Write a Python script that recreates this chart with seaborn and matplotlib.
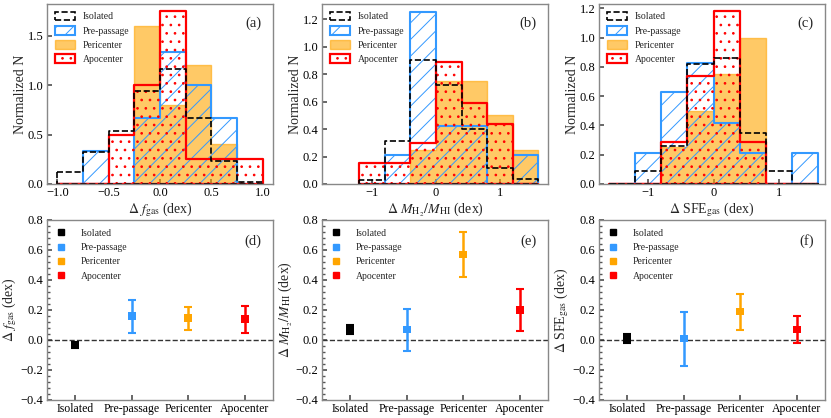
import numpy as np
import pandas as pd
from matplotlib import pyplot as plt
from matplotlib.patches import Patch
from matplotlib.lines import Line2D
from matplotlib.ticker import AutoMinorLocator, MultipleLocator
import seaborn as sns

# ---- data ----
groups = ['Isolated', 'Pre-passage', 'Pericenter', 'Apocenter']

# (a) delta f_gas histograms, bin width 0.25
edges_a = [-1.0, -0.75, -0.5, -0.25, 0.0, 0.25, 0.5, 0.75, 1.0]
iso_a = [0.12, 0.32, 0.54, 0.94, 1.16, 0.67, 0.23, 0.02]
pre_a = [0.0, 0.33, 0.0, 0.67, 1.33, 1.0, 0.67, 0.0]
peri_a = [0.0, 0.0, 0.0, 1.6, 0.8, 1.2, 0.4, 0.0]
apo_a = [0.0, 0.0, 0.5, 1.0, 1.75, 0.25, 0.25, 0.25]

# (b) delta M_H2/M_HI histograms, bin width 0.4
edges_b = [-1.2, -0.8, -0.4, 0.0, 0.4, 0.8, 1.2, 1.6]
iso_b = [0.03, 0.31, 0.90, 0.72, 0.40, 0.12, 0.04]
pre_b = [0.0, 0.21, 1.25, 0.42, 0.42, 0.0, 0.21]
peri_b = [0.0, 0.0, 0.25, 0.75, 0.75, 0.5, 0.25]
apo_b = [0.15, 0.15, 0.30, 0.89, 0.59, 0.44, 0.0]

# (c) delta SFE_gas histograms, bin width 0.4
edges_c = [-1.6, -1.2, -0.8, -0.4, 0.0, 0.4, 0.8, 1.2, 1.6]
iso_c = [0.0, 0.09, 0.26, 0.82, 0.86, 0.35, 0.09, 0.0]
pre_c = [0.0, 0.21, 0.63, 0.83, 0.42, 0.21, 0.0, 0.21]
peri_c = [0.0, 0.0, 0.25, 0.5, 0.75, 1.0, 0.0, 0.0]
apo_c = [0.0, 0.0, 0.29, 0.74, 1.18, 0.29, 0.0, 0.0]

# (d)-(f) medians and errors
med_d = [-0.03, 0.16, 0.145, 0.14]
err_d = [0.02, 0.11, 0.075, 0.09]
med_e = [0.07, 0.07, 0.57, 0.20]
err_e = [0.03, 0.14, 0.15, 0.14]
med_f = [0.01, 0.01, 0.19, 0.07]
err_f = [0.03, 0.18, 0.12, 0.09]

colors = ['black', '#3399ff', '#ffa500', '#ff0000']
peri_fill = (1.0, 0.647, 0.0, 0.6)

sns.set_theme(style='ticks')
plt.rcParams['font.family'] = ['Liberation Serif', 'DejaVu Serif']
plt.rcParams['mathtext.fontset'] = 'stix'
plt.rcParams['hatch.linewidth'] = 0.7
plt.rcParams['xtick.direction'] = 'in'
plt.rcParams['ytick.direction'] = 'in'


def style_axes(ax):
    for s in ax.spines.values():
        s.set_color('#888888')
        s.set_linewidth(1.0)
    ax.tick_params(labelsize=9, colors='#555555', labelcolor='black', length=3.5, pad=2.5)
    ax.tick_params(which='minor', length=2, colors='#555555')


def hist_panel(ax, edges, iso, pre, peri, apo, xlabel, tag):
    centers = (np.array(edges[:-1]) + np.array(edges[1:])) / 2
    sns.histplot(x=centers, weights=peri, bins=edges, element='step', fill=True,
                 color=colors[2], facecolor=peri_fill, edgecolor=peri_fill,
                 linewidth=1.0, ax=ax)
    sns.histplot(x=centers, weights=pre, bins=edges, element='step', fill=True,
                 color=colors[1], facecolor='none', edgecolor=colors[1], hatch='//',
                 linewidth=1.5, ax=ax)
    sns.histplot(x=centers, weights=apo, bins=edges, element='step', fill=True,
                 color=colors[3], facecolor='none', edgecolor=colors[3], hatch='..',
                 linewidth=1.6, ax=ax)
    sns.histplot(x=centers, weights=iso, bins=edges, element='step', fill=True,
                 color=colors[0], facecolor='none', edgecolor=colors[0], linestyle='--',
                 linewidth=1.2, ax=ax)
    handles = [
        Patch(facecolor='none', edgecolor=colors[0], linestyle='--', linewidth=1.2),
        Patch(facecolor='none', edgecolor=colors[1], hatch='//', linewidth=1.5),
        Patch(facecolor=peri_fill, edgecolor=peri_fill),
        Patch(facecolor='none', edgecolor=colors[3], hatch='..', linewidth=1.6),
    ]
    ax.legend(handles, groups, loc='upper left', frameon=False, fontsize=7,
              handlelength=2.1, handleheight=1.0, handletextpad=0.8,
              labelspacing=0.45, borderaxespad=0.4)
    ax.text(0.95, 0.93, tag, transform=ax.transAxes, ha='right', va='top', fontsize=10.5)
    ax.set_xlabel(xlabel, fontsize=10, labelpad=1)
    ax.set_ylabel('Normalized N', fontsize=10)
    ax.yaxis.set_label_coords(-0.09, 0.5)
    style_axes(ax)


def point_panel(ax, med, err, ylabel, tag):
    df = pd.DataFrame({'group': groups, 'med': med, 'err': err})
    ax.axhline(0, color='#333333', linestyle='--', linewidth=1.0, zorder=1)
    for i, row in df.iterrows():
        ax.errorbar(i, row['med'], yerr=row['err'], fmt='none', ecolor=colors[i],
                    elinewidth=1.8, capsize=3, capthick=1.5, zorder=2)
    sns.scatterplot(data=df, x='group', y='med', hue='group', palette=colors,
                    marker='s', s=30, edgecolor='none', legend=False, zorder=3, ax=ax)
    handles = [Line2D([], [], marker='s', color=c, linestyle='none', markersize=4.5)
               for c in colors]
    ax.legend(handles, groups, loc='upper left', frameon=False, fontsize=7,
              handlelength=1.0, handletextpad=1.6, labelspacing=0.55,
              borderaxespad=0.3, borderpad=0.6)
    ax.text(0.95, 0.92, tag, transform=ax.transAxes, ha='right', va='top', fontsize=10.5)
    ax.set_xlim(-0.5, 3.5)
    ax.set_ylim(-0.4, 0.8)
    ax.yaxis.set_major_locator(MultipleLocator(0.2))
    ax.yaxis.set_minor_locator(AutoMinorLocator(5))
    ax.set_xlabel('')
    ax.set_ylabel(ylabel, fontsize=10)
    ax.yaxis.set_label_coords(-0.125, 0.5)
    style_axes(ax)
    ax.tick_params(axis='x', labelsize=8.5)


fig = plt.figure(figsize=(8.31, 4.18), dpi=100)
lefts = [47 / 831, 322 / 831, 599 / 831]
w = 226 / 831
h = 180 / 418
top_ax = [fig.add_axes([l, 234 / 418, w, h]) for l in lefts]
bot_ax = [fig.add_axes([l, 18 / 418, w, h]) for l in lefts]

hist_panel(top_ax[0], edges_a, iso_a, pre_a, peri_a, apo_a,
           r'$\Delta\ f_{\rm gas}$ (dex)', '(a)')
top_ax[0].set_xlim(-1.1, 1.1)
top_ax[0].set_ylim(0, 1.82)
top_ax[0].xaxis.set_major_locator(MultipleLocator(0.5))
top_ax[0].yaxis.set_major_locator(MultipleLocator(0.5))

hist_panel(top_ax[1], edges_b, iso_b, pre_b, peri_b, apo_b,
           r'$\Delta\ M_{\rm H_2}/M_{\rm HI}$ (dex)', '(b)')
top_ax[1].set_xlim(-1.78, 1.75)
top_ax[1].set_ylim(0, 1.31)
top_ax[1].xaxis.set_major_locator(MultipleLocator(1))
top_ax[1].yaxis.set_major_locator(MultipleLocator(0.2))

hist_panel(top_ax[2], edges_c, iso_c, pre_c, peri_c, apo_c,
           r'$\Delta$ SFE$_{\rm gas}$ (dex)', '(c)')
top_ax[2].set_xlim(-1.75, 1.7)
top_ax[2].set_ylim(0, 1.23)
top_ax[2].xaxis.set_major_locator(MultipleLocator(1))
top_ax[2].yaxis.set_major_locator(MultipleLocator(0.2))

point_panel(bot_ax[0], med_d, err_d, r'$\Delta\ f_{\rm gas}$ (dex)', '(d)')
point_panel(bot_ax[1], med_e, err_e, r'$\Delta\ M_{\rm H_2}/M_{\rm HI}$ (dex)', '(e)')
point_panel(bot_ax[2], med_f, err_f, r'$\Delta$ SFE$_{\rm gas}$ (dex)', '(f)')

fig.savefig('out.png', dpi=100)
